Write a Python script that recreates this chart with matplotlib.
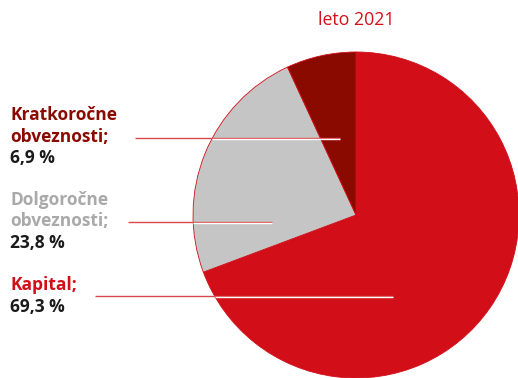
import matplotlib
matplotlib.use("Agg")
import matplotlib.pyplot as plt
import numpy as np

plt.rcParams['font.family'] = ['Open Sans', 'DejaVu Sans']

title = "leto 2021"
names = ["Kapital;", "Dolgoročne\nobveznosti;", "Kratkoročne\nobveznosti;"]
shares = [69.3, 23.8, 6.9]
colors = ['#d20f19', '#c4c5c4', '#8b0a00']
label_colors = ['#d20f19', '#a9a9a9', '#8b0a00']

W, H = 518, 378
fig = plt.figure(figsize=(W / 100, H / 100), dpi=100)
ax = fig.add_axes([0, 0, 1, 1])

# y axis is inverted below, so clockwise on screen = counterclock here
cx, cy, r = 356, 215, 163
ax.pie(shares, colors=colors, startangle=-90, counterclock=True,
       radius=r, center=(cx, cy), frame=True,
       wedgeprops=dict(linewidth=0.6, edgecolor='#d20f19'))
ax.set_xlim(0, W)
ax.set_ylim(H, 0)
ax.set_aspect('auto')
ax.axis('off')

ax.text(cx, 20, title, color='#d20f19', fontsize=12.8, ha='center', va='center')

# label block layout: (first line y, leader y, leader start x, leader end x)
layout = [(285, 296, 95, 393), (200, 222, 128, 272), (115, 138, 135, 340)]
lh = 21.5
fs = 12.5
for name, val, lc, (ty, ly, x0, x1) in zip(names, shares, label_colors, layout):
    lines = name.split("\n")
    for i, t in enumerate(lines):
        ax.text(10, ty + i * lh, t, color=lc, fontsize=fs, fontweight='bold',
                ha='left', va='center')
    ax.text(10, ty + len(lines) * lh, f"{val:.1f} %".replace('.', ','),
            color='#1a1a1a', fontsize=fs, fontweight='bold', ha='left', va='center')
    xe = cx - np.sqrt(r ** 2 - (ly - cy) ** 2)
    ax.plot([x0, x1], [ly, ly], color='#d9474e', lw=1.0, solid_capstyle='butt')
    ax.plot([xe, x1], [ly + 1, ly + 1], color='white', lw=1.0, solid_capstyle='butt')

fig.savefig('out.png', dpi=100)
